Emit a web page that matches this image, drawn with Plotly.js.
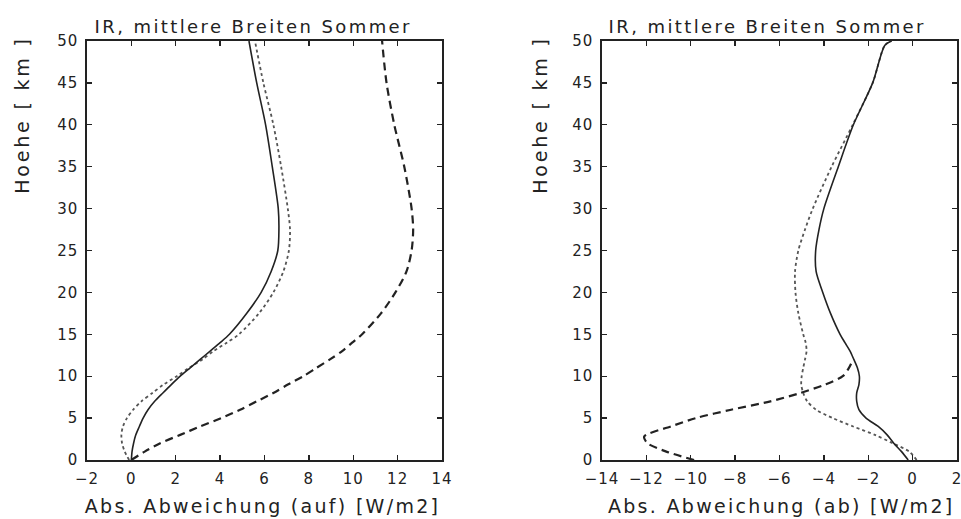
<!DOCTYPE html>
<html>
<head>
<meta charset="utf-8">
<script src="https://cdn.plot.ly/plotly-3.0.1.min.js"></script>
<style>
html,body{margin:0;padding:0;background:#fff;}
#chart{width:961px;height:519px;}
#chart g.annotation[data-index="0"] text,
#chart g.annotation[data-index="1"] text{letter-spacing:2.4px;}
#chart g.annotation[data-index="4"] text,
#chart g.annotation[data-index="5"] text{letter-spacing:2.3px;}
#chart g.annotation[data-index="2"] text,
#chart g.annotation[data-index="3"] text{letter-spacing:2.8px;}
#chart .xtick text, #chart .x2tick text, #chart .ytick text, #chart .y2tick text{letter-spacing:1px;}
</style>
</head>
<body>
<div id="chart"></div>
<script>
// Heights (km)
const hoehe = [0,1,2,3,4,5,6,7,8,9,10,11,12,13,14,15,17.5,20,22.5,25,27.5,30,35,40,45,50];

// Left panel: Abs. Abweichung (auf) [W/m2]
const aufSolid  = [0,0.03,0.1,0.2,0.36,0.53,0.75,1.05,1.42,1.8,2.2,2.65,3.1,3.55,4.0,4.42,5.2,5.85,6.3,6.6,6.65,6.62,6.35,6.05,5.65,5.3];
const aufDotted = [-0.1,-0.3,-0.42,-0.45,-0.38,-0.2,0.08,0.45,0.95,1.45,2.05,2.6,3.2,3.7,4.3,4.85,5.75,6.4,6.85,7.1,7.15,7.05,6.75,6.4,5.95,5.57];
const aufDashed = [0,0.6,1.3,2.2,3.1,4.05,4.9,5.65,6.4,7.05,7.75,8.35,8.95,9.5,9.95,10.4,11.25,11.9,12.4,12.63,12.7,12.63,12.3,11.85,11.5,11.3];

// Right panel: Abs. Abweichung (ab) [W/m2]
const abHoehe  = [0,1,2,3,4,5,6,7,8,9,10,11,12,13,14,15,17.5,20,22.5,25,27.5,30,35,40,45,49.5,50];
const abSolid  = [-0.2,-0.5,-0.85,-1.15,-1.55,-2.1,-2.42,-2.52,-2.52,-2.42,-2.4,-2.49,-2.65,-2.82,-3.05,-3.27,-3.7,-4.05,-4.35,-4.37,-4.22,-4.0,-3.35,-2.67,-1.8,-1.25,-0.95];
const abDotted = [0.18,-0.15,-0.9,-1.7,-2.68,-3.6,-4.35,-4.75,-4.93,-5.02,-5.0,-4.93,-4.85,-4.78,-4.82,-4.93,-5.15,-5.28,-5.3,-5.15,-4.85,-4.5,-3.65,-2.7,-1.8,-1.25,-0.95];
const abDashedHoehe = [0,1,2,2.8,4,5,6,7,8,9,10,11,11.8];
const abDashed = [-9.85,-11.1,-11.95,-12.1,-10.9,-9.77,-8.18,-6.41,-5.06,-3.95,-3.15,-2.87,-2.72];

const yTicks = [0,5,10,15,20,25,30,35,40,45,50];
const xTicksLeft = [-2,0,2,4,6,8,10,12,14];
const xTicksRight = [-14,-12,-10,-8,-6,-4,-2,0,2];

const titleText = "IR, mittlere Breiten Sommer";
const yTitle = "Hoehe [ km ]";
const xTitleLeft = "Abs. Abweichung (auf) [W/m2]";
const xTitleRight = "Abs. Abweichung (ab) [W/m2]";

const ink = "#222";
const FONT = "DejaVu Sans, sans-serif";

function tr(x, y, xa, ya, kind) {
  const line = {color: ink, width: 1.6, shape: "spline", smoothing: 0.8};
  if (kind === "dot") { line.dash = "dot"; line.width = 1.8; line.color = "#555"; }
  if (kind === "dash") { line.dash = "8px,5px"; line.width = 2.2; }
  return {x: x, y: y, xaxis: xa, yaxis: ya, mode: "lines", line: line, hoverinfo: "skip", showlegend: false};
}

const data = [
  tr(aufDashed, hoehe, "x", "y", "dash"),
  tr(aufDotted, hoehe, "x", "y", "dot"),
  tr(aufSolid, hoehe, "x", "y", "solid"),
  tr(abDashed, abDashedHoehe, "x2", "y2", "dash"),
  tr(abDotted, abHoehe, "x2", "y2", "dot"),
  tr(abSolid, abHoehe, "x2", "y2", "solid")
];

function xax(dom, range, ticks, anchor) {
  return {domain: dom, range: range, tickvals: ticks, ticktext: ticks.map(v => v < 0 ? "\u2212" + Math.abs(v) : String(v)),
    anchor: anchor, showgrid: false, zeroline: false, showline: true, linecolor: ink, linewidth: 1.6,
    mirror: "ticks", ticks: "inside", ticklen: 5, tickwidth: 1.3, tickcolor: ink,
    tickfont: {family: FONT, size: 15, color: ink}, ticklabelstandoff: 4, ticklabeloverflow: "allow", fixedrange: true};
}
function yax(range, ticks, anchor) {
  return {domain: [59/519, 478/519], range: range, tickvals: ticks, anchor: anchor,
    showgrid: false, zeroline: false, showline: true, linecolor: ink, linewidth: 1.6,
    mirror: "ticks", ticks: "inside", ticklen: 5, tickwidth: 1.3, tickcolor: ink,
    tickfont: {family: FONT, size: 15, color: ink}, ticklabelstandoff: 4, ticklabeloverflow: "allow", fixedrange: true};
}

function ann(text, xpx, ypx, size, angle) {
  return {text: text, xref: "paper", yref: "paper", x: xpx/961, y: 1 - ypx/519,
    xanchor: "center", yanchor: "middle", showarrow: false, textangle: angle || 0,
    font: {family: FONT, size: size, color: ink}};
}

const layout = {
  width: 961, height: 519,
  margin: {l: 0, r: 0, t: 0, b: 0},
  paper_bgcolor: "#fff", plot_bgcolor: "#fff",
  showlegend: false,
  xaxis: xax([87/961, 442/961], [-2, 14], xTicksLeft, "y"),
  yaxis: yax([0, 50], yTicks, "x"),
  xaxis2: xax([602/961, 957/961], [-14, 2], xTicksRight, "y2"),
  yaxis2: yax([0, 50], yTicks, "x2"),
  annotations: [
    ann(titleText, 253, 26, 18),
    ann(titleText, 767, 26, 18),
    ann(yTitle, 22, 115, 19, -90),
    ann(yTitle, 540, 115, 19, -90),
    ann(xTitleLeft, 262, 506, 19),
    ann(xTitleRight, 781, 506, 19)
  ]
};

Plotly.newPlot("chart", data, layout, {staticPlot: true, displayModeBar: false});
</script>
</body>
</html>
